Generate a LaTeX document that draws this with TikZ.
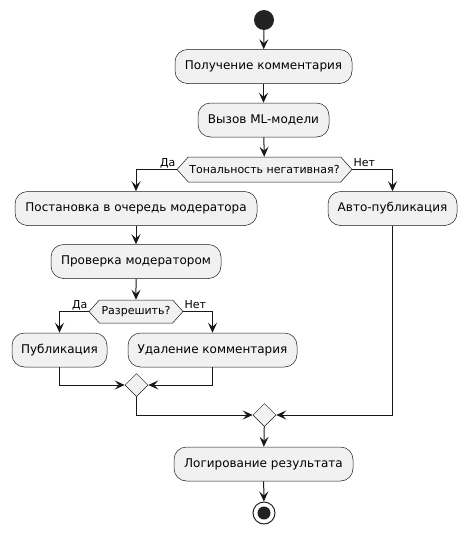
\documentclass[tikz,border=0pt]{standalone}
\usepackage{fontspec}
\setmainfont{DejaVu Sans}
\usetikzlibrary{shapes.geometric,shapes.symbols,arrows.meta}
\definecolor{actfill}{HTML}{F1F1F1}
\definecolor{ink}{HTML}{181818}
\definecolor{dot}{HTML}{222222}
\begin{document}
\begin{tikzpicture}[x=1pt,y=-1pt,
  action/.style={draw=ink,line width=0.5pt,fill=actfill,rounded corners=12.5pt,
    inner sep=0pt,minimum height=34pt,font=\fontsize{12}{14}\selectfont},
  decision/.style={draw=ink,line width=0.5pt,fill=actfill,signal,signal to=west and east,
    signal pointer angle=96,inner sep=0pt,font=\fontsize{11}{13}\selectfont},
  merge/.style={draw=ink,line width=0.5pt,fill=actfill,diamond,inner sep=0pt,
    minimum width=23pt,minimum height=23pt},
  flow/.style={draw=ink,line width=1pt,-{Stealth[length=10pt,width=9pt,inset=4pt]}},
  branch/.style={font=\fontsize{11}{13}\selectfont,inner sep=0pt}]
\useasboundingbox (0,0) rectangle (467,533);

% start and end
\node[circle,fill=dot,minimum size=20pt,inner sep=0pt] (start) at (264,20) {};
\node[circle,draw=dot,line width=1pt,fill=white,minimum size=22pt,inner sep=0pt] (stop) at (264,513) {};
\fill[dot] (stop.center) circle (6.5pt);

% actions
\node[action,minimum width=177pt] (recv) at (263.5,66.5) {Получение комментария};
\node[action,minimum width=131pt] (model) at (263.5,120) {Вызов ML-модели};
\node[decision,minimum width=175pt,minimum height=25pt] (tone) at (264.5,169.5) {Тональность негативная?};
\node[action,minimum width=242pt] (queue) at (136,208.5) {Постановка в очередь модератора};
\node[action,minimum width=129pt] (auto) at (392.5,208.5) {Авто-публикация};
\node[action,minimum width=170pt] (check) at (136,261.5) {Проверка модератором};
\node[decision,minimum width=94pt,minimum height=23pt] (allow) at (136,311.5) {Разрешить?};
\node[action,minimum width=95pt] (pub) at (59.5,350) {Публикация};
\node[action,minimum width=169pt] (del) at (212.5,350) {Удаление комментария};
\node[merge] (join1) at (136.5,385) {};
\node[merge] (join2) at (264.5,415) {};
\node[action,minimum width=179pt] (log) at (263.5,464) {Логирование результата};

% branch labels
\node[branch,anchor=base east] (yes1) at ([yshift=3pt,xshift=-1pt]tone.west) {Да};
\node[branch,anchor=base west] (no1) at ([yshift=3pt,xshift=1pt]tone.east) {Нет};
\node[branch,anchor=base east] (yes2) at ([yshift=3pt,xshift=-1pt]allow.west) {Да};
\node[branch,anchor=base west] (no2) at ([yshift=3pt,xshift=1pt]allow.east) {Нет};

% connectors
\draw[flow] (start) -- (recv);
\draw[flow] (recv) -- (model);
\draw[flow] (model) -- (tone);
\draw[flow] (tone.west) -| (queue.north);
\draw[flow] (tone.east) -| (auto.north);
\draw[flow] (queue) -- (check);
\draw[flow] (check) -- (allow);
\draw[flow] (allow.west) -| (pub.north);
\draw[flow] (allow.east) -| (del.north);
\draw[flow] (pub.south) |- (join1.west);
\draw[flow] (del.south) |- (join1.east);
\draw[flow] (join1.south) |- (join2.west);
\draw[flow] (auto.south) |- (join2.east);
\draw[flow] (join2) -- (log);
\draw[flow] (log) -- (stop);
\end{tikzpicture}
\end{document}
